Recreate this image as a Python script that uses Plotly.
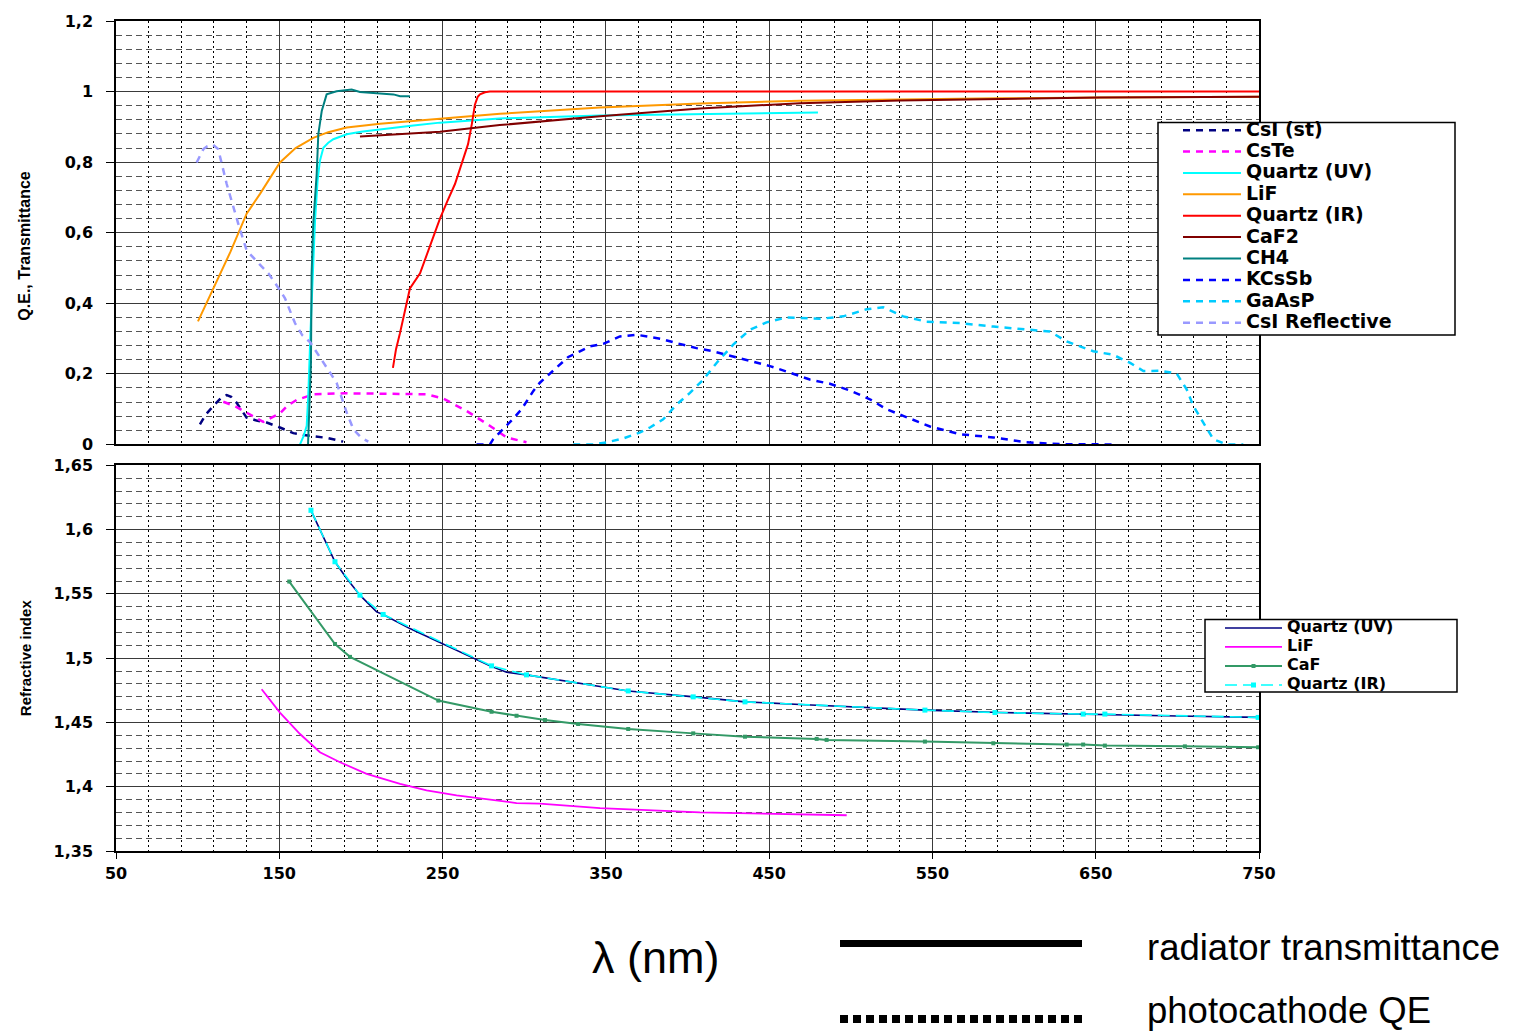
import plotly.graph_objects as go

# ---------------- data ----------------
# Top panel: Q.E., Transmittance vs wavelength (nm)
csi_st_x = [101.4, 105, 109.6, 114, 117.8, 120.5, 123.9, 130, 136, 142.3, 150.4, 158.6, 165, 170.8, 180, 189.1]
csi_st_y = [0.057, 0.085, 0.109, 0.13, 0.14, 0.135, 0.118, 0.076, 0.068, 0.062, 0.048, 0.032, 0.027, 0.023, 0.018, 0.008]

cste_x = [115.7, 123, 130, 140.2, 150.4, 155, 160.6, 170.8, 190, 210, 230, 240.2, 250.4, 264.7, 278.9, 289.2, 301.4]
cste_y = [0.121, 0.108, 0.09, 0.064, 0.088, 0.11, 0.126, 0.142, 0.145, 0.145, 0.143, 0.142, 0.13, 0.095, 0.053, 0.02, 0.006]

quartz_uv_x = [162.7, 165, 166.8, 167.8, 169.2, 170.4, 171.9, 173.5, 174.9, 177, 180, 183.1, 191.3, 200, 211.7, 232.1, 248.4, 285, 346.4, 407.6, 479.9]
quartz_uv_y = [0.0, 0.025, 0.053, 0.146, 0.33, 0.485, 0.635, 0.75, 0.804, 0.841, 0.855, 0.865, 0.879, 0.886, 0.893, 0.904, 0.912, 0.924, 0.932, 0.936, 0.941]

lif_x = [100.2, 106.9, 113.7, 120, 130, 138.2, 150.4, 160, 170.8, 180, 191.3, 211.7, 248.4, 285.2, 346.4, 407.6, 468.9, 530.1, 591.3, 652.6, 750]
lif_y = [0.349, 0.415, 0.482, 0.545, 0.654, 0.71, 0.799, 0.84, 0.869, 0.885, 0.898, 0.909, 0.923, 0.937, 0.955, 0.966, 0.974, 0.978, 0.981, 0.983, 0.985]

quartz_ir_x = [219.6, 221.5, 223.9, 227, 230, 236.2, 242, 248.4, 253, 257.6, 262, 265.6, 268, 269.8, 271.5, 272.9, 276, 279, 350, 450, 550, 650, 750]
quartz_ir_y = [0.217, 0.27, 0.315, 0.38, 0.442, 0.485, 0.56, 0.64, 0.69, 0.738, 0.8, 0.851, 0.91, 0.963, 0.985, 0.992, 0.998, 1.0, 1.0, 1.0, 1.0, 1.0, 1.0]

caf2_x = [199.4, 220, 248.4, 285, 346.4, 407.6, 468.9, 530.1, 591.3, 652.6, 750]
caf2_y = [0.873, 0.878, 0.886, 0.905, 0.93, 0.952, 0.967, 0.975, 0.98, 0.983, 0.985]

ch4_x = [167.6, 168.5, 169.4, 169.8, 170.8, 172.9, 173.9, 176, 179, 185.1, 190, 194.3, 199.4, 205, 211.7, 219.9, 224, 230]
ch4_y = [0.0, 0.1, 0.231, 0.485, 0.625, 0.766, 0.879, 0.945, 0.992, 1.001, 1.003, 1.006, 0.999, 0.997, 0.996, 0.992, 0.987, 0.987]

kcssb_x = [270.8, 279, 281, 285.1, 293.3, 298.4, 302.4, 305.5, 309.6, 315.8, 321.9, 327, 334.1, 340.3, 348.4, 358.6, 368.8, 374.9,
           384.1, 393.3, 405.5, 415.7, 432.1, 442.3, 450.5, 458.5, 474.9, 487.2, 499.4, 511.7, 521.9, 532.1, 548.5, 566.9,
           587.3, 607.6, 628, 660.7]
kcssb_y = [0.0, 0.0, 0.015, 0.034, 0.073, 0.1, 0.128, 0.151, 0.175, 0.201, 0.226, 0.248, 0.264, 0.278, 0.285, 0.306, 0.311, 0.306,
           0.299, 0.287, 0.273, 0.264, 0.245, 0.233, 0.222, 0.21, 0.184, 0.172, 0.153, 0.128, 0.1, 0.081, 0.051, 0.029,
           0.02, 0.006, 0.001, 0.0]

gaasp_x = [330, 342.3, 350.5, 360.7, 371, 377, 385.1, 393.3, 401.5, 409.7, 417.8, 428, 438.2, 448.4, 460.7, 481.1, 495.4, 509.7,
           519.8, 532.1, 546.4, 566.9, 587.3, 607.6, 622, 632.2, 648.5, 660.7, 671.1, 679.2, 689.3, 699.6, 705.7, 709.8,
           716, 722, 730.2, 740.4]
gaasp_y = [0.0, 0.0, 0.006, 0.017, 0.034, 0.048, 0.071, 0.113, 0.146, 0.184, 0.231, 0.283, 0.325, 0.346, 0.36, 0.356, 0.363, 0.383,
           0.389, 0.363, 0.348, 0.344, 0.334, 0.325, 0.32, 0.292, 0.264, 0.254, 0.231, 0.208, 0.209, 0.201, 0.156, 0.109,
           0.062, 0.015, 0.0, 0.0]

csi_refl_x = [99.4, 103.5, 106, 109.5, 112.6, 117.8, 124.9, 130, 136, 143.3, 150, 153.5, 159.6, 164, 168.8, 173, 177, 185.1, 191.3, 195.4, 200, 204.5]
csi_refl_y = [0.799, 0.837, 0.845, 0.849, 0.837, 0.738, 0.625, 0.55, 0.52, 0.485, 0.44, 0.414, 0.344, 0.31, 0.29, 0.26, 0.231, 0.175, 0.09, 0.043, 0.02, 0.008]

# Bottom panel: refractive index vs wavelength (nm)
n_quartz_uv_x = [169.4, 175, 179, 184.1, 191.3, 199.4, 209.6, 213.6, 230, 248.4, 268.8, 279, 289.2, 301.4, 346.4, 363.7, 407.6,
                 435.2, 468.9, 500, 545.4, 591.3, 652.6, 700, 750]
n_quartz_uv_y = [1.615, 1.60, 1.588, 1.575, 1.562, 1.549, 1.536, 1.534, 1.523, 1.512, 1.500, 1.494, 1.489, 1.487, 1.478, 1.4745,
                 1.4695, 1.466, 1.464, 1.462, 1.4596, 1.4577, 1.456, 1.455, 1.4539]

n_lif_x = [139.2, 150.4, 162.7, 174.9, 187.2, 203.5, 224, 240.2, 258.6, 279, 295.3, 309.6, 346.4, 407.6, 450, 497.5]
n_lif_y = [1.4758, 1.4577, 1.441, 1.4268, 1.419, 1.41, 1.4023, 1.3972, 1.3933, 1.39, 1.3873, 1.3868, 1.3833, 1.380, 1.379, 1.3778]

n_caf_x = [156.1, 184.1, 193.3, 247.4, 280, 295.3, 312.7, 333, 363.7, 403.5, 435.2, 479.1, 485.2, 545.4, 587.3, 632.2, 642.3,
           655.6, 704.6, 749.5]
n_caf_y = [1.5596, 1.511, 1.501, 1.467, 1.4583, 1.4552, 1.4519, 1.4488, 1.4449, 1.4415, 1.4389, 1.4372, 1.4364, 1.4351, 1.4338,
           1.4328, 1.4328, 1.432, 1.4314, 1.4307]

n_quartz_ir_x = [169.4, 184.1, 199.4, 213.6, 280, 301.4, 363.7, 403.5, 435.2, 545.4, 588.3, 642.3, 655.6, 749.5]
n_quartz_ir_y = [1.615, 1.575, 1.549, 1.534, 1.494, 1.487, 1.4745, 1.4699, 1.466, 1.4596, 1.4577, 1.4565, 1.4565, 1.4539]

top_names = ["CsI (st)", "CsTe", "Quartz (UV)", "LiF", "Quartz (IR)", "CaF2", "CH4", "KCsSb", "GaAsP", "CsI Reflective"]
bottom_names = ["Quartz (UV)", "LiF", "CaF", "Quartz (IR)"]

# Ticks
x_tickvals = [50, 150, 250, 350, 450, 550, 650, 750]
x_ticktext = ["50", "150", "250", "350", "450", "550", "650", "750"]
top_tickvals = [0, 0.2, 0.4, 0.6, 0.8, 1.0, 1.2]
top_ticktext = ["0", "0,2", "0,4", "0,6", "0,8", "1", "1,2"]
bot_tickvals = [1.35, 1.40, 1.45, 1.50, 1.55, 1.60, 1.65]
bot_ticktext = ["1,35", "1,4", "1,45", "1,5", "1,55", "1,6", "1,65"]

# ---------------- figure ----------------
W, H = 1520, 1034
ML, MR, MT, MB = 116, 261, 16, 183
PW, PH = W - ML - MR, H - MT - MB


def px(xp):
    return (xp - ML) / PW


def py(yp):
    return (H - MB - yp) / PH


def big(label, size):
    return '<span style="font-size:%dpx">%s</span>' % (size, label)


fig = go.Figure()

DASH = "7px,6px"
top_data = [
    (csi_st_x, csi_st_y, "#000080", DASH, 2.5),
    (cste_x, cste_y, "#FF00FF", DASH, 2.5),
    (quartz_uv_x, quartz_uv_y, "#00FFFF", "solid", 2),
    (lif_x, lif_y, "#FF9900", "solid", 2),
    (quartz_ir_x, quartz_ir_y, "#FF0000", "solid", 2),
    (caf2_x, caf2_y, "#800000", "solid", 2),
    (ch4_x, ch4_y, "#008080", "solid", 2),
    (kcssb_x, kcssb_y, "#0000FF", DASH, 2.5),
    (gaasp_x, gaasp_y, "#00CCFF", DASH, 2.5),
    (csi_refl_x, csi_refl_y, "#9999FF", DASH, 2.5),
]
for name, (xs, ys, col, dash, w) in zip(top_names, top_data):
    fig.add_trace(go.Scatter(x=xs, y=ys, name=big(name, 19), mode="lines",
                             line=dict(color=col, dash=dash, width=w),
                             xaxis="x", yaxis="y", legend="legend"))

fig.add_trace(go.Scatter(x=n_quartz_uv_x, y=n_quartz_uv_y, name=big(bottom_names[0], 16), mode="lines",
                         line=dict(color="#000080", width=1.6), xaxis="x2", yaxis="y2", legend="legend2"))
fig.add_trace(go.Scatter(x=n_lif_x, y=n_lif_y, name=big(bottom_names[1], 16), mode="lines",
                         line=dict(color="#FF00FF", width=1.8), xaxis="x2", yaxis="y2", legend="legend2"))
fig.add_trace(go.Scatter(x=n_caf_x, y=n_caf_y, name=big(bottom_names[2], 16), mode="lines+markers",
                         line=dict(color="#339966", width=2),
                         marker=dict(symbol="square", size=4, color="#339966"),
                         xaxis="x2", yaxis="y2", legend="legend2"))
fig.add_trace(go.Scatter(x=n_quartz_ir_x, y=n_quartz_ir_y, name=big(bottom_names[3], 16), mode="lines+markers",
                         line=dict(color="#00FFFF", width=1.6, dash="12px,6px"),
                         marker=dict(symbol="square", size=5, color="#00FFFF"),
                         xaxis="x2", yaxis="y2", legend="legend2"))

TICKFONT = dict(family="DejaVu Sans", size=16, color="black", weight="bold")
GRID_MAJOR = "#3a3a3a"

xcommon = dict(range=[50, 750], tickvals=x_tickvals, ticktext=x_ticktext,
               showgrid=True, gridcolor=GRID_MAJOR, gridwidth=1.3,
               minor=dict(dtick=20, tick0=50, showgrid=True, gridcolor="black", griddash="2px,3px", gridwidth=1.2),
               showline=True, linecolor="black", linewidth=1.5, mirror=True,
               zeroline=False, tickfont=TICKFONT)
fig.update_layout(
    xaxis=dict(**xcommon, domain=[0, 1], anchor="y", matches="x2", showticklabels=False,
               ticks="", ticklen=0),
    xaxis2=dict(**xcommon, domain=[0, 1], anchor="y2", ticks="outside", ticklen=6, tickcolor="black",
                ticklabelstandoff=1),
    yaxis=dict(domain=[py(442), 1], range=[0, 1.2], tickvals=top_tickvals, ticktext=top_ticktext,
               showgrid=True, gridcolor=GRID_MAJOR, gridwidth=1.3,
               minor=dict(dtick=0.04, tick0=0, showgrid=True, gridcolor="#555555", griddash="6px,4px", gridwidth=1),
               showline=True, linecolor="black", linewidth=1.5, mirror=True, zeroline=False,
               ticks="outside", ticklen=8, tickcolor="black", ticklabelstandoff=10, tickfont=TICKFONT,
               anchor="x"),
    yaxis2=dict(domain=[0, py(463)], range=[1.35, 1.65], tickvals=bot_tickvals, ticktext=bot_ticktext,
                showgrid=True, gridcolor=GRID_MAJOR, gridwidth=1.3,
                minor=dict(dtick=0.01, tick0=1.35, showgrid=True, gridcolor="#555555", griddash="6px,4px", gridwidth=1),
                showline=True, linecolor="black", linewidth=1.5, mirror=True, zeroline=False,
                ticks="outside", ticklen=8, tickcolor="black", ticklabelstandoff=10, tickfont=TICKFONT,
                anchor="x2"),
    width=W, height=H,
    margin=dict(l=ML, r=MR, t=MT, b=MB, pad=0),
    plot_bgcolor="white", paper_bgcolor="white",
    showlegend=True,
    legend=dict(x=px(1178), y=py(110), xanchor="left", yanchor="top",
                bgcolor="rgba(0,0,0,0)", borderwidth=0, itemwidth=58,
                font=dict(family="DejaVu Sans", size=14.15, color="black", weight="bold"),
                tracegroupgap=0),
    legend2=dict(x=px(1220), y=py(612), xanchor="left", yanchor="top",
                 bgcolor="rgba(0,0,0,0)", borderwidth=0, itemwidth=57,
                 font=dict(family="DejaVu Sans", size=11.2, color="black", weight="bold"),
                 tracegroupgap=0),
)

shapes = [
    # legend frames
    dict(type="rect", xref="paper", yref="paper", x0=px(1158), x1=px(1455), y0=py(332), y1=py(118),
         line=dict(color="black", width=1.5), fillcolor="white", layer="above"),
    dict(type="rect", xref="paper", yref="paper", x0=px(1205), x1=px(1457), y0=py(691), y1=py(618),
         line=dict(color="black", width=1.5), fillcolor="white", layer="above"),
    # key lines below the chart
    dict(type="line", xref="paper", yref="paper", x0=px(840), x1=px(1082), y0=py(944), y1=py(944),
         line=dict(color="black", width=7)),
    dict(type="line", xref="paper", yref="paper", x0=px(840), x1=px(1082), y0=py(1020), y1=py(1020),
         line=dict(color="black", width=8, dash="8px,5px")),
]
fig.update_layout(shapes=shapes)

annotations = [
    dict(text="Q.E., Transmittance", xref="paper", yref="paper", x=px(25), y=py(243), textangle=-90,
         showarrow=False, xanchor="center", yanchor="middle",
         font=dict(family="Liberation Sans", size=16, color="black", weight="bold")),
    dict(text="Refractive index", xref="paper", yref="paper", x=px(25), y=py(657), textangle=-90,
         showarrow=False, xanchor="center", yanchor="middle",
         font=dict(family="Liberation Sans", size=15, color="black", weight="bold")),
    dict(text="λ (nm)", xref="paper", yref="paper", x=px(656), y=py(958), showarrow=False,
         xanchor="center", yanchor="middle", font=dict(family="Liberation Sans", size=45, color="black")),
    dict(text="radiator transmittance", xref="paper", yref="paper", x=px(1145), y=py(948), showarrow=False,
         xanchor="left", yanchor="middle", font=dict(family="Liberation Sans", size=36.5, color="black")),
    dict(text="photocathode QE", xref="paper", yref="paper", x=px(1145), y=py(1034), showarrow=False,
         xanchor="left", yanchor="bottom", font=dict(family="Liberation Sans", size=36.5, color="black")),
]
fig.update_layout(annotations=annotations)

fig.write_html("out.html", post_script="document.body.style.margin='0';",
               config={"displayModeBar": False})
